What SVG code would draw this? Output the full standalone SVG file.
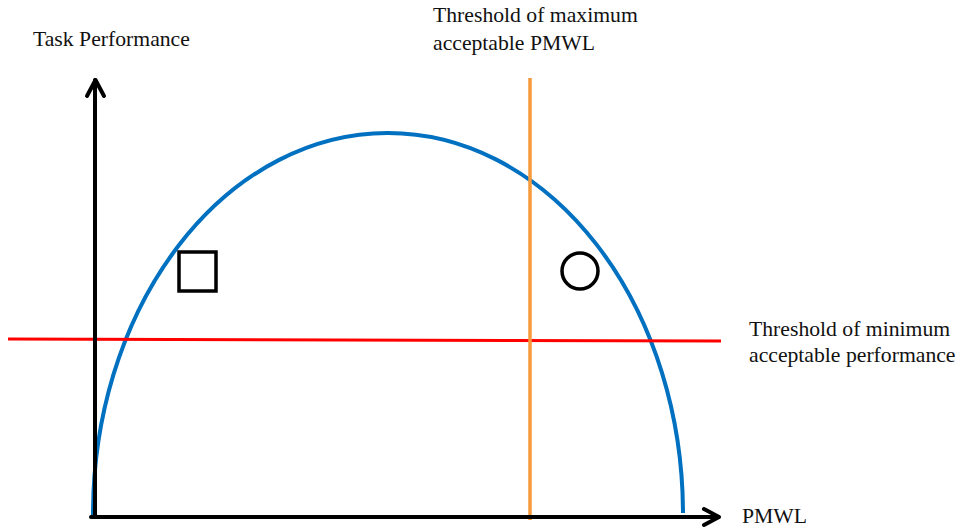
<svg xmlns="http://www.w3.org/2000/svg" width="961" height="528" viewBox="0 0 961 528">
<style>
.lbl{font-family:"Liberation Serif","Times New Roman",serif;font-size:21.7px;fill:#111}
.ax{stroke:#000;stroke-width:4;fill:none;stroke-linecap:round;stroke-linejoin:round}
</style>
<rect width="961" height="528" fill="#fff"/>
<g id="connectors">
<path id="curve" d="M93 515 A295 381 0 0 1 683 513" fill="none" stroke="#0070C0" stroke-width="4"/>
<line id="min-threshold" x1="8" y1="339" x2="721" y2="341" stroke="#FF0000" stroke-width="3"/>
<line id="max-threshold" x1="530" y1="78" x2="530" y2="520" stroke="#F79A3B" stroke-width="3.5"/>
<g id="y-axis"><path class="ax" d="M95 517 V80"/><path class="ax" d="M87 96 L95.5 80 L104 96"/></g>
<g id="x-axis"><path class="ax" d="M91 517 H718"/><path class="ax" d="M704 509 L719 517 L704 525"/></g>
</g>
<g id="square"><rect x="179" y="252" width="37" height="39" fill="none" stroke="#000" stroke-width="3.5"/></g>
<g id="circle"><circle cx="580" cy="271" r="18" fill="none" stroke="#000" stroke-width="3.5"/></g>
<g id="labels">
<text class="lbl" x="33" y="46">Task Performance</text>
<text class="lbl" x="433" y="22">Threshold of maximum</text>
<text class="lbl" x="433" y="50">acceptable PMWL</text>
<text class="lbl" x="749" y="336">Threshold of minimum</text>
<text class="lbl" x="749" y="362">acceptable performance</text>
<text class="lbl" x="742" y="523">PMWL</text>
</g>
</svg>
